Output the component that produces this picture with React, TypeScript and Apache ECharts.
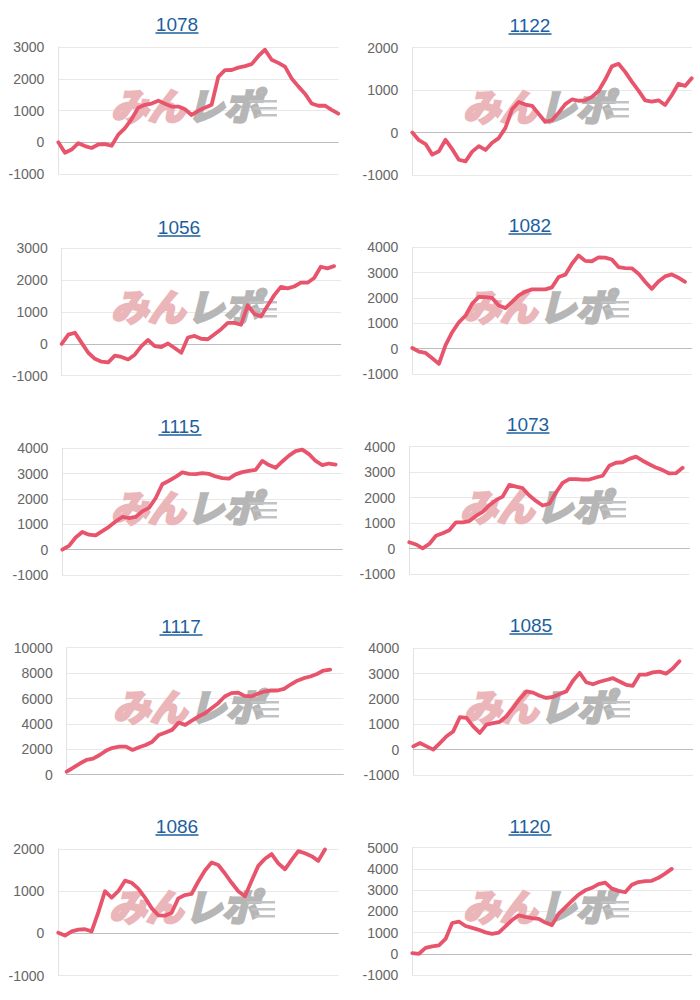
import React, { useEffect, useRef } from 'react';
import * as echarts from 'echarts';

const titles = ['1078', '1122', '1056', '1082', '1115', '1073', '1117', '1085', '1086', '1120'];

const categories = Array.from({ length: 43 }, (_, i) => `${i + 1}`);

const v1078 = [0, -330, -230, -30, -120, -180, -70, -60, -110, 240, 447, 730, 1090, 1180, 1220, 1310, 1210, 1125, 1125, 1040, 860, 990, 1090, 1180, 2060, 2270, 2275, 2350, 2400, 2460, 2710, 2915, 2600, 2500, 2380, 2010, 1760, 1530, 1220, 1150, 1150, 1020, 900];
const v1122 = [0, -180, -270, -520, -440, -170, -390, -640, -680, -450, -320, -410, -240, -130, 110, 550, 720, 660, 630, 440, 250, 290, 470, 670, 780, 750, 760, 840, 980, 1250, 1560, 1620, 1430, 1200, 990, 760, 730, 760, 650, 880, 1150, 1100, 1280];
const v1056 = [0, 290, 350, 30, -280, -470, -560, -580, -370, -410, -490, -340, -70, 120, -70, -100, 10, -130, -280, 200, 250, 160, 145, 300, 460, 660, 660, 600, 1210, 940, 860, 1200, 1530, 1790, 1740, 1800, 1920, 1920, 2070, 2420, 2370, 2440];
const v1082 = [25, -120, -170, -380, -600, 140, 650, 1040, 1300, 1780, 2040, 2030, 2000, 1700, 1600, 1850, 2100, 2250, 2340, 2340, 2340, 2420, 2830, 2920, 3350, 3680, 3465, 3450, 3600, 3590, 3520, 3220, 3180, 3170, 2960, 2640, 2360, 2650, 2850, 2930, 2800, 2640];
const v1115 = [0, 150, 480, 700, 590, 560, 730, 900, 1110, 1290, 1240, 1290, 1510, 1650, 2030, 2580, 2720, 2870, 3050, 2990, 2980, 3020, 2990, 2890, 2820, 2800, 2970, 3060, 3110, 3150, 3500, 3340, 3230, 3480, 3710, 3890, 3950, 3770, 3500, 3340, 3400, 3360];
const v1073 = [250, 160, 10, 180, 500, 600, 720, 1030, 1030, 1080, 1280, 1440, 1700, 1900, 2040, 2500, 2430, 2370, 2080, 1870, 1690, 1760, 2200, 2580, 2730, 2730, 2710, 2710, 2790, 2860, 3250, 3370, 3390, 3520, 3610, 3450, 3310, 3180, 3080, 2950, 2960, 3170];
const v1117 = [240, 560, 880, 1160, 1260, 1550, 1900, 2120, 2210, 2210, 1950, 2160, 2340, 2600, 3130, 3320, 3530, 4100, 3920, 4260, 4580, 4840, 5240, 5630, 6160, 6420, 6470, 6210, 6160, 6370, 6550, 6630, 6630, 6760, 7100, 7400, 7600, 7730, 7930, 8200, 8280];
const v1085 = [130, 260, 130, 0, 260, 530, 720, 1280, 1250, 920, 660, 990, 1050, 1100, 1320, 1650, 2000, 2300, 2250, 2130, 2040, 2080, 2200, 2300, 2720, 3030, 2660, 2580, 2680, 2750, 2820, 2690, 2560, 2520, 2960, 2960, 3050, 3080, 3000, 3200, 3490];
const v1086 = [15, -50, 50, 90, 100, 50, 500, 1000, 850, 1000, 1250, 1200, 1060, 850, 600, 430, 420, 490, 830, 910, 940, 1230, 1490, 1680, 1620, 1420, 1200, 1000, 880, 1250, 1600, 1770, 1880, 1660, 1520, 1740, 1950, 1900, 1830, 1720, 1990];
const v1120 = [30, 0, 280, 350, 400, 700, 1450, 1520, 1310, 1220, 1130, 1010, 940, 1000, 1290, 1590, 1810, 1740, 1680, 1650, 1470, 1350, 1880, 2190, 2500, 2790, 2990, 3110, 3280, 3350, 3070, 2960, 2900, 3250, 3380, 3420, 3440, 3580, 3780, 4000];

const seriesValues = [v1078, v1122, v1056, v1082, v1115, v1073, v1117, v1085, v1086, v1120];
const yMin = [-1000, -1000, -1000, -1000, -1000, -1000, 0, -1000, -1000, -1000];
const yMax = [3000, 2000, 3000, 4000, 4000, 4000, 10000, 4000, 2000, 5000];
const yStep = [1000, 1000, 1000, 1000, 1000, 1000, 2000, 1000, 1000, 1000];

const FONT = '"Liberation Sans", Arial, sans-serif';
const CJK = '"Noto Sans CJK JP", sans-serif';
const LINE = '#E8546C';
const LINK = '#1d5f9e';
const WM_PINK = '#ebb6b9';
const WM_GRAY = '#b6b6b6';

// layout of each panel: plot left/right/top/bottom, title centre, watermark centre
const panels = [
  { l: 58.3, r: 338.3, t: 47, b: 174, tx: 177, ty: 24, wx: 195, wy: 104 },
  { l: 412.3, r: 691.7, t: 47.7, b: 175, tx: 530, ty: 25, wx: 547, wy: 105 },
  { l: 61.7, r: 340.7, t: 248.3, b: 375.7, tx: 179, ty: 227, wx: 195, wy: 305 },
  { l: 412.3, r: 691.7, t: 247.3, b: 374, tx: 530, ty: 225, wx: 547, wy: 305 },
  { l: 62.3, r: 342.3, t: 448.3, b: 575, tx: 180, ty: 426, wx: 195, wy: 506 },
  { l: 409.3, r: 689.3, t: 446.7, b: 574, tx: 528, ty: 424, wx: 544, wy: 505 },
  { l: 66.7, r: 343.3, t: 647.7, b: 774.7, tx: 181, ty: 626, wx: 197, wy: 705 },
  { l: 413.3, r: 692.7, t: 648.3, b: 775, tx: 531, ty: 625, wx: 548, wy: 705 },
  { l: 58.3, r: 338.3, t: 849, b: 975.7, tx: 177, ty: 826, wx: 193, wy: 905 },
  { l: 412.3, r: 691.7, t: 847.7, b: 975, tx: 530, ty: 826, wx: 547, wy: 905 },
];

export default function App() {
  const ref = useRef<HTMLDivElement>(null);
  useEffect(() => {
    if (!ref.current) return;
    const chart = echarts.init(ref.current, undefined, { renderer: 'svg', width: 700, height: 1000 });
    const grid: any[] = [];
    const xAxis: any[] = [];
    const yAxis: any[] = [];
    const series: any[] = [];
    const graphic: any[] = [];
    panels.forEach((p, i) => {
      grid.push({ left: p.l, top: p.t, width: p.r - p.l, height: p.b - p.t, containLabel: false, outerBoundsMode: 'none' });
      xAxis.push({
        type: 'category', gridIndex: i, data: categories, boundaryGap: false,
        axisLabel: { show: false }, axisTick: { show: false }, splitLine: { show: false },
        axisLine: { show: true, onZero: true, lineStyle: { color: '#bdbdbd', width: 1 } },
      });
      yAxis.push({
        type: 'value', gridIndex: i, min: yMin[i], max: yMax[i], interval: yStep[i],
        axisLabel: { color: '#666', fontSize: 14, fontFamily: FONT, margin: 14, formatter: (v: number) => String(v) },
        axisLine: { show: true, lineStyle: { color: '#e2e2e2' } },
        axisTick: { show: false },
        splitLine: { show: true, lineStyle: { color: '#e8e8e8', width: 1 } },
      });
      series.push({
        type: 'line', xAxisIndex: i, yAxisIndex: i, data: seriesValues[i],
        showSymbol: false, symbol: 'none', silent: true, z: 5,
        lineStyle: { color: LINE, width: 3.8, join: 'round', cap: 'round' },
        itemStyle: { color: LINE },
      });
      // title (link style)
      graphic.push({
        type: 'text', x: p.tx, y: p.ty, z: 10,
        style: { text: titles[i], fontSize: 19, fontFamily: FONT, fill: LINK, align: 'center', verticalAlign: 'middle', textAlign: 'center', textVerticalAlign: 'middle' },
      });
      graphic.push({
        type: 'line', z: 10,
        shape: { x1: p.tx - 21.5, y1: p.ty + 9, x2: p.tx + 21.5, y2: p.ty + 9 },
        style: { stroke: LINK, lineWidth: 1.5 },
      });
      // watermark
      graphic.push({
        type: 'text', x: p.wx - 84, y: p.wy, z: 1,
        style: { text: 'みん', fontSize: 37, fontWeight: 'bold', fontStyle: 'italic', fontFamily: CJK, fill: WM_PINK, stroke: WM_PINK, lineWidth: 3, align: 'left', verticalAlign: 'middle', textAlign: 'left', textVerticalAlign: 'middle' },
      });
      graphic.push({
        type: 'text', x: p.wx - 8, y: p.wy, z: 1,
        style: { text: 'レポ', fontSize: 37, fontWeight: 'bold', fontStyle: 'italic', fontFamily: CJK, fill: WM_GRAY, stroke: WM_GRAY, lineWidth: 3, align: 'left', verticalAlign: 'middle', textAlign: 'left', textVerticalAlign: 'middle' },
      });
      [-4, 3, 10].forEach((dy, k) => {
        graphic.push({
          type: 'rect', z: 1,
          shape: { x: p.wx + 54 + k * 4, y: p.wy + dy, width: 28 - k * 4, height: 2.5 },
          style: { fill: '#c2c2c2' },
        });
      });
    });
    chart.setOption({
      animation: false,
      backgroundColor: '#ffffff',
      grid, xAxis, yAxis, series, graphic,
    });
    return () => chart.dispose();
  }, []);
  return <div ref={ref} style={{ position: 'absolute', left: 0, top: 0, width: 700, height: 1000 }} />;
}
